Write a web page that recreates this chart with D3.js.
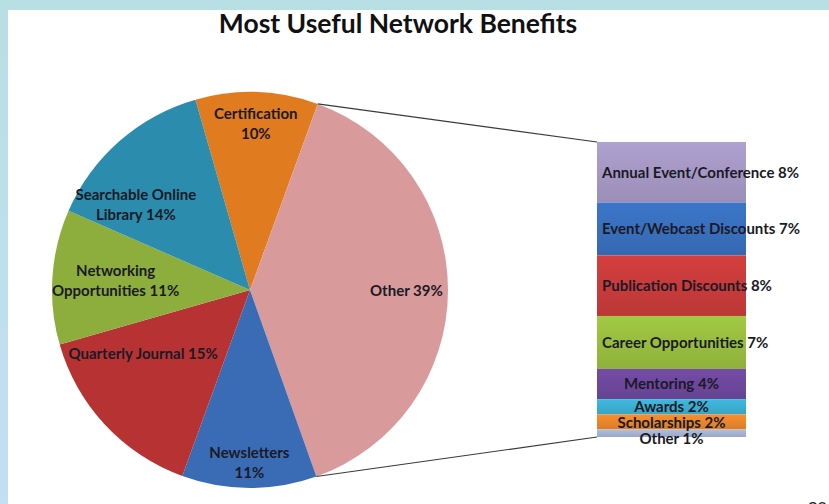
<!DOCTYPE html>
<html lang="en">
    <head>
        <meta charset="utf-8">
        <title>Most Useful Network Benefits</title>
        <script src="https://d3js.org/d3.v7.min.js"></script>
        <style type="text/css">
            body{
                margin: 0;
                background: #ffffff;
            }
            svg{
                display: block;
                font-family: Lato, "Open Sans", sans-serif;
            }
        </style>
    </head>
    <body>
        <svg width="829" height="504"></svg>
        <script type="text/javascript">

            // pie (main) slices, clockwise from top
            const pieNames = ["Certification", "Other", "Newsletters", "Quarterly Journal", "Networking Opportunities", "Searchable Online Library"];
            const pieValues = [10, 39, 11, 15, 11, 14];
            const pieLabels = ["Certification\n10%", "Other 39%", "Newsletters\n11%", "Quarterly Journal 15%", "Networking\nOpportunities 11%", "Searchable Online\nLibrary 14%"];
            const pieColors = ["#e17b1f", "#d99a9c", "#3a6cb6", "#b73333", "#8dad3d", "#2b8cae"];

            // breakdown of "Other" in the bar
            const barNames = ["Annual Event/Conference", "Event/Webcast Discounts", "Publication Discounts", "Career Opportunities", "Mentoring", "Awards", "Scholarships", "Other"];
            const barValues = [8, 7, 8, 7, 4, 2, 2, 1];
            const barColors = ["#a99bc9", "#3a72c2", "#cd3c3c", "#9cc241", "#7049a1", "#3cb3d6", "#ef8a2c", "#a8b8d7"];

            const svg = d3.select("svg");
            const defs = svg.append("defs");

            // frame
            const side = defs.append("linearGradient").attr("id", "side")
                            .attr("x1", 0).attr("y1", 0).attr("x2", 0).attr("y2", 1);
            side.append("stop").attr("offset", "0%").attr("stop-color", "#b8dfe3");
            side.append("stop").attr("offset", "100%").attr("stop-color", "#c4def4");
            svg.append("rect").attr("x", 0).attr("y", 0).attr("width", 829).attr("height", 10).style("fill", "#b8dfe3");
            svg.append("rect").attr("x", 0).attr("y", 0).attr("width", 8).attr("height", 504).style("fill", "url(#side)");

            svg.append("text")
                .attr("x", 398).attr("y", 33)
                .attr("text-anchor", "middle")
                .style("font-size", "26.5px").style("font-weight", "bold")
                .style("fill", "#111")
                .text("Most Useful Network Benefits");

            // ---- pie ----
            const cx = 250, cy = 290, r = 198;
            const toRad = d => d * Math.PI / 180;
            const start = toRad(-16);

            const pie = d3.pie().sort(null).startAngle(start).endAngle(start + 2 * Math.PI);
            const arcs = pie(pieValues);
            const arc = d3.arc().innerRadius(0).outerRadius(r);

            const g = svg.append("g").attr("transform", `translate(${cx},${cy})`);

            g.selectAll("path")
                .data(arcs)
                .join("path")
                .attr("d", arc)
                .style("fill", (d, i) => pieColors[i]);

            // label placement: fraction of radius, angle nudge (deg)
            const labelPlace = [[0.84, 0], [0.79, 0], [0.87, 0], [0.63, 12], [0.68, 0], [0.72, -12]];
            const lineH = 20;

            g.selectAll("text.pl")
                .data(arcs)
                .join("text")
                .attr("class", "pl")
                .attr("text-anchor", "middle")
                .style("font-size", "15px").style("font-weight", "bold")
                .style("fill", "#1a1a26")
                .each(function(d, i) {
                    const a = (d.startAngle + d.endAngle) / 2 + toRad(labelPlace[i][1]);
                    const dist = r * labelPlace[i][0];
                    const x = dist * Math.sin(a), y = -dist * Math.cos(a);
                    const lines = pieLabels[i].split("\n");
                    d3.select(this).selectAll("tspan")
                        .data(lines)
                        .join("tspan")
                        .attr("x", x)
                        .attr("y", (l, j) => y + (j - (lines.length - 1) / 2) * lineH)
                        .attr("dy", "0.35em")
                        .text(l => l);
                });

            // ---- bar ----
            const barX = 597, barW = 149;
            const total = d3.sum(barValues);
            const y = d3.scaleLinear().domain([0, total]).range([142, 437]);
            const cum = d3.cumsum(barValues);
            const segs = barValues.map((v, i) => ({name: barNames[i], value: v, y0: cum[i] - v, y1: cum[i], color: barColors[i]}));

            segs.forEach((s, i) => {
                const lg = defs.append("linearGradient").attr("id", "bg" + i)
                            .attr("x1", 0).attr("y1", 0).attr("x2", 0).attr("y2", 1);
                lg.append("stop").attr("offset", "0%").attr("stop-color", d3.color(s.color).brighter(0.1));
                lg.append("stop").attr("offset", "100%").attr("stop-color", d3.color(s.color).darker(0.25));
            });

            svg.selectAll("rect.seg")
                .data(segs)
                .join("rect")
                .attr("class", "seg")
                .attr("x", barX)
                .attr("width", barW)
                .attr("y", d => y(d.y0))
                .attr("height", d => y(d.y1) - y(d.y0))
                .style("fill", (d, i) => `url(#bg${i})`);

            // label y = segment middle, pushed down so thin segments keep some room
            let lastY = -Infinity;
            segs.forEach(s => {
                s.ly = Math.max((y(s.y0) + y(s.y1)) / 2, lastY + 16);
                lastY = s.ly;
            });

            const barLabels = svg.selectAll("text.bl")
                .data(segs)
                .join("text")
                .attr("class", "bl")
                .style("font-size", "15px").style("font-weight", "bold")
                .style("fill", "#1a1a26")
                .attr("y", d => d.ly)
                .attr("dy", "0.35em")
                .text(d => `${d.name} ${d.value}%`);

            barLabels.attr("x", function() {
                const w = this.getComputedTextLength();
                return Math.max(barX + 5, barX + barW / 2 - w / 2);
            });

            // connector lines from the "Other" slice to the bar
            const other = arcs[1];
            const p0 = [cx + r * Math.sin(other.startAngle), cy - r * Math.cos(other.startAngle)];
            const p1 = [cx + r * Math.sin(other.endAngle), cy - r * Math.cos(other.endAngle)];
            svg.append("line")
                .attr("x1", p0[0]).attr("y1", p0[1]).attr("x2", barX).attr("y2", y(0))
                .style("stroke", "#3a3a3a").style("stroke-width", 1.2);
            svg.append("line")
                .attr("x1", p1[0]).attr("y1", p1[1]).attr("x2", barX).attr("y2", y(total))
                .style("stroke", "#3a3a3a").style("stroke-width", 1.2);

            // page number, cut off at the bottom edge
            svg.append("text")
                .attr("x", 808).attr("y", 514)
                .style("font-size", "17px").style("font-family", "Arial, sans-serif")
                .style("fill", "#222")
                .text("20");

        </script>
    </body>
</html>
